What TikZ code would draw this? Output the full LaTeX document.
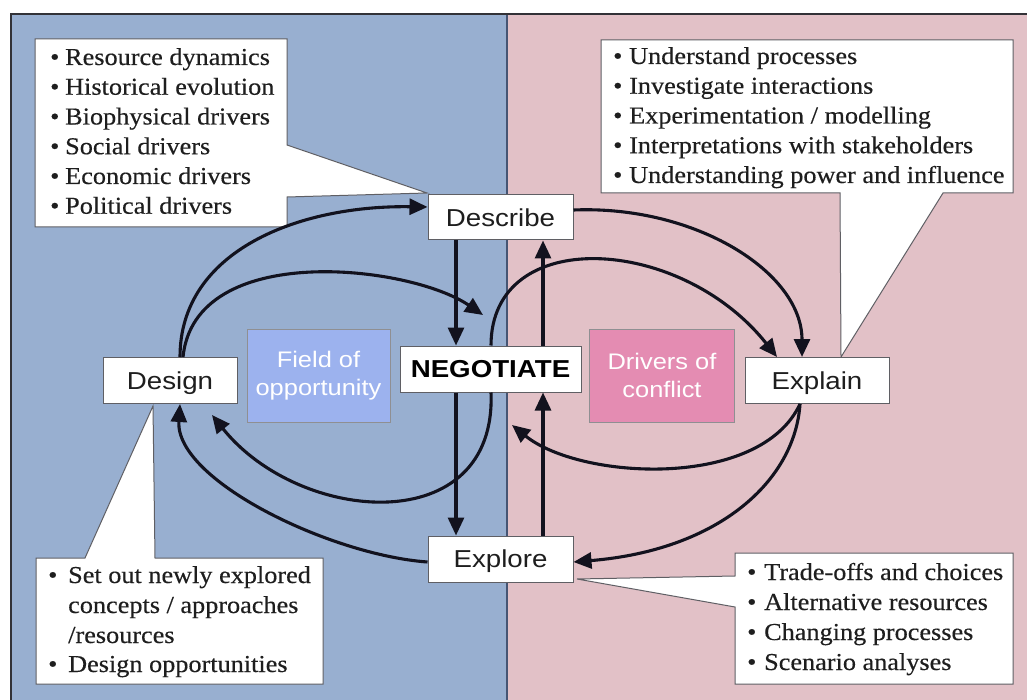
\documentclass[tikz,border=0pt]{standalone}
\usepackage{fontspec}
\setmainfont{Liberation Serif}[FakeStretch=1.08,FakeBold=0.35]
\newfontfamily\lsans{Liberation Sans}[FakeStretch=1.13]
\usetikzlibrary{arrows.meta,calc}
\definecolor{bgblue}{RGB}{152,175,208}
\definecolor{bgpink}{RGB}{226,193,199}
\definecolor{fieldblue}{RGB}{156,178,238}
\definecolor{driverpink}{RGB}{228,140,178}
\definecolor{arrowc}{RGB}{18,18,30}
\definecolor{boxline}{RGB}{95,95,100}
\definecolor{framec}{RGB}{50,50,55}
\definecolor{divc}{RGB}{70,85,115}
\definecolor{txt}{RGB}{30,30,30}
\begin{document}
\begin{tikzpicture}[x=1pt,y=-1pt,
  lab/.style={draw=boxline, line width=1pt, fill=white, inner sep=0pt,
    text height=17.5pt, text depth=0pt, text=txt,
    font=\lsans\fontsize{24.5}{28}\selectfont},
  tint/.style={draw=boxline!70, line width=0.8pt, inner sep=0pt, align=center,
    text=white, font=\lsans\fontsize{22.5}{28.5}\selectfont},
  callout/.style={fill=white, draw=boxline, line width=1pt, line join=miter},
  bul/.style={anchor=base west, inner sep=0pt, text=txt,
    font=\fontsize{24.3}{29.75}\selectfont},
  arr/.style={draw=arrowc, line width=3.1pt, -{Triangle[length=18pt,width=16pt]}},
]
\useasboundingbox (0,0) rectangle (1027,700);
\fill[white] (0,0) rectangle (1027,700);
% backgrounds
\fill[bgblue] (11,14) rectangle (507,700);
\fill[bgpink] (507,14) rectangle (1027,700);
\draw[divc, line width=1.5pt] (507,14) -- (507,700);
\draw[framec, line width=2.5pt] (11,700) -- (11,14) -- (1027,14);

% callouts
\draw[callout] (35,39) -- (287,39) -- (287,145) -- (427,193) -- (287,197) -- (287,227) -- (35,227) -- cycle;
\draw[callout] (601,40) -- (1013,40) -- (1013,193) -- (943,193) -- (841,357) -- (840,193) -- (601,193) -- cycle;
\draw[callout] (36,558) -- (85,558) -- (153,406) -- (155,558) -- (323,558) -- (323,684) -- (36,684) -- cycle;
\draw[callout] (735,553) -- (1013,553) -- (1013,684) -- (735,684) -- (735,607) -- (577,579) -- (735,576) -- cycle;

% callout texts
\node[bul] (tl1) at (50,65) {\makebox[15pt][l]{•}Resource dynamics};
\node[bul] (tl2) at (50,94.75) {\makebox[15pt][l]{•}Historical evolution};
\node[bul] (tl3) at (50,124.5) {\makebox[15pt][l]{•}Biophysical drivers};
\node[bul] (tl4) at (50,154.25) {\makebox[15pt][l]{•}Social drivers};
\node[bul] (tl5) at (50,184) {\makebox[15pt][l]{•}Economic drivers};
\node[bul] (tl6) at (50,213.75) {\makebox[15pt][l]{•}Political drivers};

\node[bul] (tr1) at (613,64) {\makebox[16pt][l]{•}Understand processes};
\node[bul] (tr2) at (613,93.75) {\makebox[16pt][l]{•}Investigate interactions};
\node[bul] (tr3) at (613,123.5) {\makebox[16pt][l]{•}Experimentation / modelling};
\node[bul] (tr4) at (613,153.25) {\makebox[16pt][l]{•}Interpretations with stakeholders};
\node[bul] (tr5) at (613,183) {\makebox[16pt][l]{•}Understanding power and influence};

\node[bul] (bl1) at (48,583) {\makebox[20pt][l]{•}Set out newly explored};
\node[bul] (bl2) at (68,613) {concepts / approaches};
\node[bul] (bl3) at (68,643) {/resources};
\node[bul] (bl4) at (48,672) {\makebox[20pt][l]{•}Design opportunities};

\node[bul] (br1) at (747,580) {\makebox[17pt][l]{•}Trade-offs and choices};
\node[bul] (br2) at (747,610) {\makebox[17pt][l]{•}Alternative resources};
\node[bul] (br3) at (747,640) {\makebox[17pt][l]{•}Changing processes};
\node[bul] (br4) at (747,670) {\makebox[17pt][l]{•}Scenario analyses};

% main nodes
\node[lab, minimum width=145pt, minimum height=45pt] (des) at (500.5,217.5) {Describe};
\node[lab, minimum width=134pt, minimum height=46pt] (dsg) at (170,380.5) {Design};
\node[lab, minimum width=144pt, minimum height=46pt] (expl) at (817,380.5) {Explain};
\node[lab, minimum width=145pt, minimum height=46pt] (expo) at (500.5,559) {Explore};
\node[lab, minimum width=181pt, minimum height=46pt, font=\lsans\bfseries\fontsize{24.5}{28}\selectfont, text=black] (neg) at (490.5,369) {NEGOTIATE};
\node[tint, fill=fieldblue, minimum width=143pt, minimum height=93pt] (fld) at (318.5,375.5) {Field of\\opportunity};
\node[tint, fill=driverpink, minimum width=145pt, minimum height=93pt] (drv) at (662,375.5) {Drivers of\\conflict};

% helper coordinates
\coordinate (cL) at (456,0);
\coordinate (cR) at (543,0);
\coordinate (dsgA) at (180,0);
\coordinate (dsgB) at (183,0);
\coordinate (dsgC) at (212,415);
\coordinate (t6) at (483,315);
\coordinate (negA) at (491,0);
\coordinate (explA) at (777,0);
\coordinate (explB) at (802,0);
\coordinate (explC) at (800,0);
\coordinate (negT) at (512,425);
\coordinate (desR) at (0,210);
\coordinate (desL) at (0,207);
\coordinate (expoR) at (0,562);

% vertical arrows
\draw[arr] (des.south -| cL) -- (neg.north -| cL);
\draw[arr] (neg.south -| cL) -- (expo.north -| cL);
\draw[arr] (expo.north -| cR) -- (neg.south -| cR);
\draw[arr] (neg.north -| cR) -- (des.south -| cR);

% curved arrows
\draw[arr] (dsg.north -| dsgA) .. controls (180,250) and (300,205) .. (des.west |- desL);
\draw[arr] (dsg.north -| dsgB) .. controls (195,240) and (410,265) .. (t6);
\draw[arr] (des.east |- desR) .. controls (695,205) and (802,272) .. (expl.north -| explB);
\draw[arr] (neg.north -| negA) .. controls (491,225) and (680,235) .. (expl.north -| explA);
\draw[arr] (neg.south -| negA) .. controls (497,540) and (300,525) .. (dsgC);
\draw[arr] (expl.south -| explC) .. controls (760,490) and (580,480) .. (negT);
\draw[arr] (expl.south -| explC) .. controls (795,480) and (720,550) .. (expo.east |- expoR);
\draw[arr] (expo.west |- expoR) .. controls (330,555) and (175,480) .. (dsg.south -| dsgA);
\end{tikzpicture}
\end{document}
